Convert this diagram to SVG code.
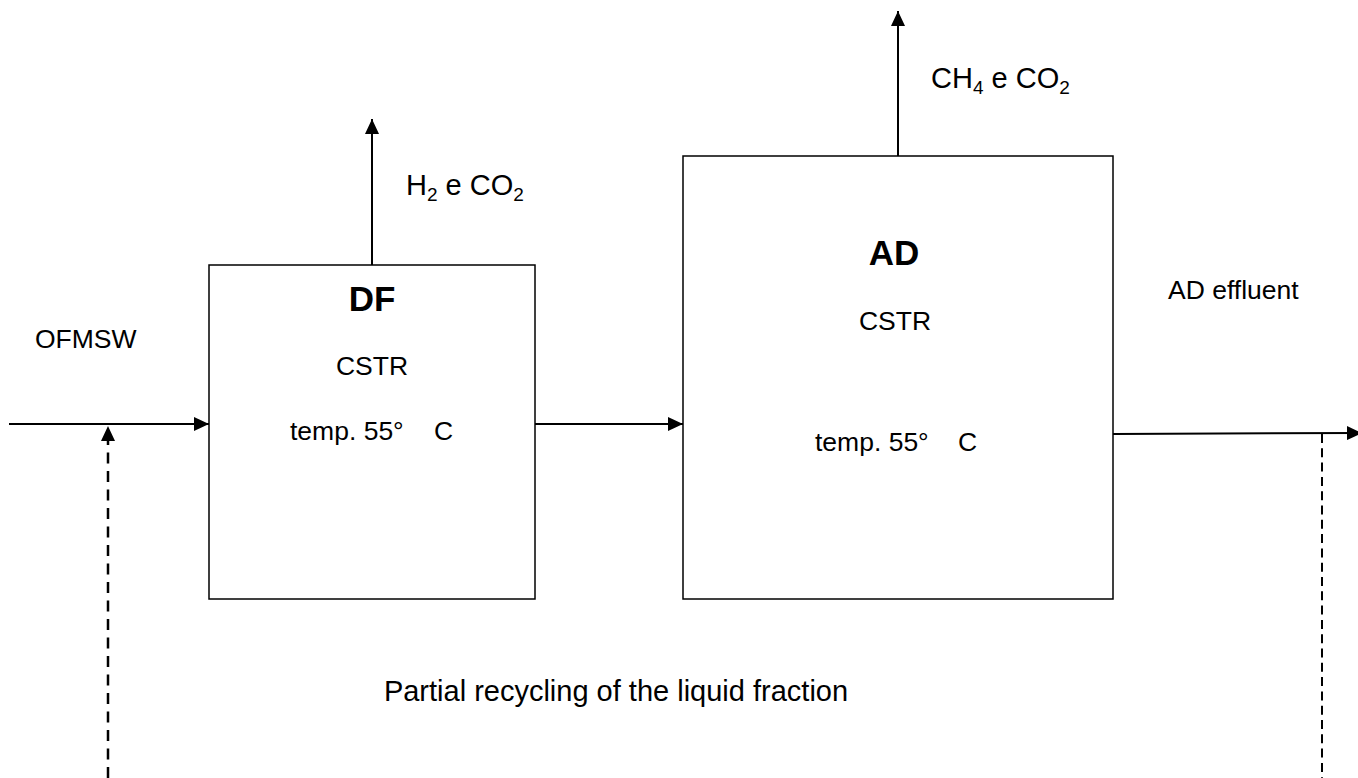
<svg xmlns="http://www.w3.org/2000/svg" width="1358" height="778" viewBox="0 0 1358 778">
<style>
text{font-family:"Liberation Sans",Arial,sans-serif;font-size:26.5px;fill:#000}
.b{font-weight:bold;font-size:35px}
.g{font-size:29px}
.box{fill:#fff;stroke:#000;stroke-width:1.5}
.ln{stroke:#000;stroke-width:2;fill:none}
.d1{stroke:#000;stroke-width:2.5;fill:none;stroke-dasharray:11 7.5}
.d2{stroke:#000;stroke-width:2;fill:none;stroke-dasharray:9 5.3}
.sub{font-size:19px}
</style>
<defs>
<marker id="ah" markerWidth="15" markerHeight="14" refX="15" refY="7" orient="auto" markerUnits="userSpaceOnUse">
<path d="M0,0 L15,7 L0,14 Z" fill="#000"/>
</marker>
</defs>
<g id="connectors">
<line class="ln" x1="9" y1="424" x2="209" y2="424" marker-end="url(#ah)"/>
<line class="ln" x1="535" y1="424" x2="683" y2="424" marker-end="url(#ah)"/>
<line class="ln" x1="1113" y1="434" x2="1362" y2="433" marker-end="url(#ah)"/>
<line class="ln" x1="372" y1="265" x2="372" y2="119" marker-end="url(#ah)"/>
<line class="ln" x1="898" y1="156" x2="898" y2="11" marker-end="url(#ah)"/>
<line class="d1" x1="108" y1="778" x2="108" y2="441"/>
<path d="M108,426 L101,441 L115,441 Z" fill="#000"/>
<line class="d2" x1="1322" y1="434" x2="1322" y2="778"/>
</g>
<g id="labels">
<text x="35" y="348">OFMSW</text>
<text class="g" x="406" y="195">H<tspan class="sub" dy="6">2</tspan><tspan dy="-6"> e CO</tspan><tspan class="sub" dy="6">2</tspan></text>
<text class="g" x="931" y="88">CH<tspan class="sub" dy="6">4</tspan><tspan dy="-6"> e CO</tspan><tspan class="sub" dy="6">2</tspan></text>
<text x="1168" y="299">AD effluent</text>
<text x="616" y="701" text-anchor="middle" style="font-size:29px">Partial recycling of the liquid fraction</text>
</g>
<g id="DF">
<rect class="box" x="209" y="265" width="326" height="334"/>
<text class="b" x="372" y="311" text-anchor="middle">DF</text>
<text x="372" y="375" text-anchor="middle">CSTR</text>
<text x="290" y="440">temp. 55°<tspan x="434">C</tspan></text>
</g>
<g id="AD">
<rect class="box" x="683" y="156" width="430" height="443"/>
<text class="b" x="894" y="265" text-anchor="middle">AD</text>
<text x="895" y="330" text-anchor="middle">CSTR</text>
<text x="815" y="451">temp. 55°<tspan x="958">C</tspan></text>
</g>
</svg>
